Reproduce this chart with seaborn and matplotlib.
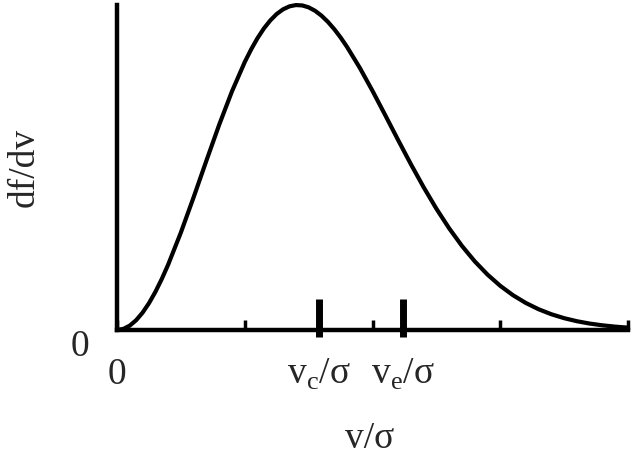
import matplotlib
matplotlib.use("Agg")
import matplotlib.pyplot as plt
import seaborn as sns
import pandas as pd

# speed in units of sigma, and the distribution height (peak = 1)
v_sigma = [0.0, 0.05, 0.1, 0.15, 0.2, 0.25, 0.3, 0.35, 0.4, 0.5, 0.6, 0.7, 0.8, 0.9, 1.0,
           1.05, 1.1, 1.15, 1.2, 1.25, 1.3, 1.35, 1.4, 1.45, 1.5, 1.55, 1.6, 1.65, 1.7, 1.75,
           1.8, 1.9, 2.0, 2.1, 2.2, 2.3, 2.4, 2.5, 2.6, 2.7, 2.8, 2.9, 3.0,
           3.1, 3.2, 3.3, 3.4, 3.5, 3.6, 3.7, 3.8, 3.9, 4.0]
dfdv = [0.0, 0.0034, 0.0135, 0.0302, 0.0533, 0.0823, 0.1169, 0.1566, 0.2007, 0.2999, 0.4087,
        0.5213, 0.6317, 0.7343, 0.8244,
        0.8634, 0.8981, 0.9279, 0.9526, 0.9723, 0.9867, 0.9958, 0.9998, 0.9987, 0.9928,
        0.9823, 0.9674, 0.9485, 0.9260, 0.9002,
        0.8714, 0.8070, 0.7358, 0.6608, 0.5849, 0.5105, 0.4395, 0.3732, 0.3129, 0.2588,
        0.2114, 0.1706, 0.1359,
        0.1070, 0.0832, 0.0639, 0.0485, 0.0364, 0.0270, 0.0198, 0.0144, 0.0103, 0.0073]

minor_ticks = [0, 1, 2, 3, 4]
marker_pos = [1.58, 2.24]
marker_labels = [r"v$_{\rm c}$/σ", r"v$_{\rm e}$/σ"]

df = pd.DataFrame({"v": v_sigma, "f": dfdv})

sns.set_style("white")
plt.rcParams["font.family"] = ["Liberation Serif", "DejaVu Serif"]
plt.rcParams["mathtext.fontset"] = "custom"
plt.rcParams["mathtext.rm"] = "Liberation Serif"

FS = 27

fig = plt.figure(figsize=(6.43, 4.55), dpi=100)
ax = fig.add_axes([117 / 643, 1 - 330 / 455, 511 / 643, 325 / 455])

sns.lineplot(data=df, x="v", y="f", ax=ax, color="black", linewidth=3,
             clip_on=False, solid_joinstyle="round", solid_capstyle="round")

ax.set_xlim(0, 4)
ax.set_ylim(0, 1.0)
sns.despine(ax=ax)
for side in ["left", "bottom"]:
    ax.spines[side].set_linewidth(3.2)
    ax.spines[side].set_color("black")

# small ticks along v axis, only "0" labelled
ax.set_xticks(minor_ticks, minor=True)
ax.set_xticklabels(["0", "", "", "", ""], minor=True)
ax.tick_params(axis="x", which="minor", direction="in", length=7.5, width=2.5,
               color="black", labelsize=FS, pad=20, bottom=True)

# bold markers at v_c and v_e
ax.set_xticks(marker_pos)
ax.set_xticklabels(marker_labels)
ax.tick_params(axis="x", which="major", length=0, labelsize=FS, pad=19)
ax.vlines(marker_pos, -0.022, 0.095, color="black", linewidth=5, clip_on=False)

ax.set_yticks([0])
ax.set_yticklabels(["0"])
ax.tick_params(axis="y", length=0, labelsize=FS, pad=20)
for lab in ax.get_yticklabels():
    lab.set_verticalalignment("top")

ax.set_xlabel("v/σ", fontsize=FS)
ax.xaxis.set_label_coords(0.495, -0.28)
ax.set_ylabel("df/dv", fontsize=FS)
ax.yaxis.set_label_coords(-0.147, 0.5)

fig.savefig("out.png", dpi=100)
